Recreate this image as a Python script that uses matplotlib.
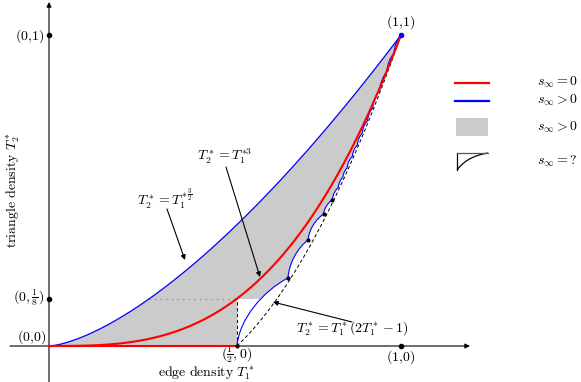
import numpy as np
import matplotlib
matplotlib.use('Agg')
import matplotlib.pyplot as plt
from matplotlib.path import Path
from matplotlib.patches import PathPatch, Rectangle

plt.rcParams['mathtext.fontset'] = 'cm'

# ---------------- data (schematic drawing coordinates) ----------------
half_x = 0.534          # drawn position of T1* = 1/2
upper_exp = 1.5         # T2* = T1*^(3/2)
lower_exp = 3.0         # T2* = T1*^3
knot_x = [0.534, 0.679, 0.736, 0.780, 0.805, 0.822, 0.835, 0.847, 0.862,
          0.876, 0.890, 0.905, 0.920, 0.940, 0.960, 0.980, 1.0]
knot_y = [0.0, 0.219, 0.341, 0.424, 0.470, 0.510, 0.543, 0.572, 0.610,
          0.646, 0.684, 0.724, 0.766, 0.823, 0.882, 0.941, 1.0]
legend_labels = [r'$s_\infty = 0$', r'$s_\infty > 0$', r'$s_\infty > 0$', r'$s_\infty = ?$']

FS = 10
RED = '#ff0000'
BLUE = '#0000ff'
GRAY = '#cbcbcb'

fig = plt.figure(figsize=(5.81, 3.82), dpi=100)
ax = fig.add_axes([0, 0, 1, 1])
ax.axis('off')

def P(px, py):
    return ((px - 49) / 352.0, (346 - py) / 311.0)

ax.set_xlim(P(0, 0)[0], P(581, 0)[0])
ax.set_ylim(P(0, 382)[1], P(0, 0)[1])

xs = np.linspace(0, 1, 400)
upper = xs ** upper_exp
lower = xs ** lower_exp

# Turán curve T2 = T1(2T1-1), for T1 in [1/2, 1]
T1 = np.linspace(0.5, 1, 200)
T2 = T1 * (2 * T1 - 1)
tx = half_x + (1 - half_x) * (2 * T1 - 1)

# scallop path (cubic Bezier arcs between knots)
c1 = (0.05, 0.40)
c2 = (0.50, 0.80)
sc_verts = [(knot_x[0], knot_y[0])]
sc_codes = [Path.MOVETO]
for i in range(len(knot_x) - 1):
    x0, y0, x1, y1 = knot_x[i], knot_y[i], knot_x[i + 1], knot_y[i + 1]
    dx, dy = x1 - x0, y1 - y0
    sc_verts += [(x0 + c1[0] * dx, y0 + c1[1] * dy),
                 (x0 + c2[0] * dx, y0 + c2[1] * dy),
                 (x1, y1)]
    sc_codes += [Path.CURVE4] * 3

# gray region
g_verts = [(0, 0), (half_x, 0)] + sc_verts[1:] + list(zip(xs[::-1], upper[::-1])) + [(0, 0)]
g_codes = [Path.MOVETO, Path.LINETO] + sc_codes[1:] + [Path.LINETO] * len(xs) + [Path.CLOSEPOLY]
ax.add_patch(PathPatch(Path(g_verts, g_codes), facecolor=GRAY, edgecolor='none', zorder=1))
y8 = half_x ** lower_exp
ax.add_patch(Rectangle((half_x, 0), 0.2, y8, facecolor='white', edgecolor='none', zorder=2))

# axes
arr = dict(arrowstyle='-|>', lw=0.8, color='black', mutation_scale=7, shrinkA=0, shrinkB=0)
ax.annotate('', xy=P(470, 346), xytext=P(10, 346), arrowprops=arr, zorder=3)
ax.annotate('', xy=P(49, 2), xytext=P(49, 382), arrowprops=arr, zorder=3)

# dashed / dotted helpers
ax.plot(tx, T2, color='black', lw=0.7, ls=(0, (3.5, 2.5)), zorder=3)
ax.plot([half_x, half_x], [0, y8], color='black', lw=0.7, ls=(0, (3.5, 2.5)), zorder=3)
ax.plot([half_x ** 2, half_x], [y8, y8], color='#888888', lw=0.9, ls=(0, (1, 3.5)), zorder=3)

# curves
ax.plot(xs, upper, color=BLUE, lw=0.9, zorder=4)
ax.add_patch(PathPatch(Path(sc_verts, sc_codes), facecolor='none', edgecolor=BLUE, lw=0.8, zorder=4))
ax.plot(xs, lower, color=RED, lw=1.5, zorder=5)
ax.plot([0, half_x], [0, 0], color=RED, lw=1.5, zorder=5)

# dots
ax.plot(knot_x[:5], knot_y[:5], 'o', color='black', ms=2.0, zorder=6)
ax.plot([0, 0, 1], [1, y8, 0], 'o', color='black', ms=3, zorder=6)
ax.plot([1], [1], 'o', color=BLUE, ms=3, zorder=6)

# labels
def T(px, py, s, **kw):
    kw.setdefault('ha', 'center')
    kw.setdefault('va', 'center')
    ax.text(*P(px, py), s, fontsize=FS, **kw)

T(401, 22, r'$(1{,}1)$')
T(44, 36, r'$(0{,}1)$', ha='right')
T(44, 298, r'$(0,\frac{1}{8})$', ha='right')
T(32, 337, r'$(0{,}0)$')
T(237, 355, r'$(\frac{1}{2},0)$')
T(401, 357, r'$(1{,}0)$')
T(206, 373, r'$\mathrm{edge\ density}\ T_1^*$')
T(13, 190, r'$\mathrm{triangle\ density}\ T_2^*$', rotation=90)
T(165, 199, r'$T_2^* = T_1^{*\,\frac{3}{2}}$')
T(225, 156, r'$T_2^* = T_1^{*3}$')
T(352, 329, r'$T_2^* = T_1^*(2T_1^* - 1)$')

arr2 = dict(arrowstyle='-|>', lw=0.8, color='black', mutation_scale=7, shrinkA=0, shrinkB=0)
ax.annotate('', xy=P(185, 260), xytext=P(167, 209), arrowprops=arr2, zorder=7)
ax.annotate('', xy=P(260, 277), xytext=P(226, 167), arrowprops=arr2, zorder=7)
ax.annotate('', xy=P(273, 302), xytext=P(352, 322), arrowprops=arr2, zorder=7)

# legend
l = [P(455, 83), P(489, 83)]
ax.plot([l[0][0], l[1][0]], [l[0][1], l[1][1]], color=RED, lw=1.6)
l = [P(455, 101), P(489, 101)]
ax.plot([l[0][0], l[1][0]], [l[0][1], l[1][1]], color=BLUE, lw=1.6)
r0 = P(456, 136); r1 = P(488, 118)
ax.add_patch(Rectangle(r0, r1[0] - r0[0], r1[1] - r0[1], facecolor=GRAY, edgecolor='none'))
a, b = P(457, 170), P(457, 153)
ax.plot([a[0], b[0]], [a[1], b[1]], color='black', lw=0.9)
c = P(488, 153)
ax.plot([b[0], c[0]], [b[1], c[1]], color='#555555', lw=0.9)
icon = Path([P(457, 170), P(463, 162), P(472, 155.5), P(488, 153)],
            [Path.MOVETO, Path.CURVE4, Path.CURVE4, Path.CURVE4])
ax.add_patch(PathPatch(icon, facecolor='none', edgecolor='black', lw=0.9))
for lab, py in zip(legend_labels, [82, 100, 127, 161]):
    T(537, py, lab, ha='left')

fig.savefig('out.png', dpi=100)
